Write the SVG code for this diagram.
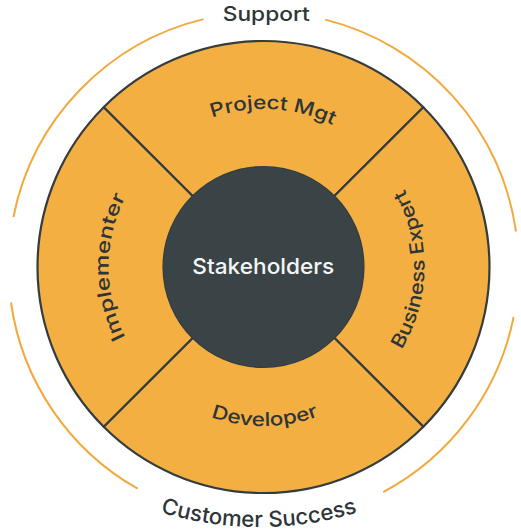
<svg xmlns="http://www.w3.org/2000/svg" xmlns:xlink="http://www.w3.org/1999/xlink" width="521" height="532" viewBox="0 0 521 532">
<style>
.seg{fill:#F4AF42;stroke:#343c3e;stroke-width:2.2;stroke-linejoin:round}
.ring{fill:none;stroke:#F2A93B;stroke-width:2}
.lbl{font-family:Inter,"Open Sans","Liberation Sans",sans-serif;font-weight:500;fill:#2e3537}
.in{font-size:19px}
.out{font-size:20px}
</style>
<defs>
<path id="pProject" d="M131.7,179.8 A158,158 0 0 1 404.9,196.5"/>
<path id="pDev" d="M126.5,347.7 A159,159 0 0 0 401.9,345.3"/>
<path id="pImpl" d="M186,401.2 A155,155 0 0 1 186,132.8"/>
<path id="pBiz" d="M341.6,407.8 A161,161 0 0 0 346.4,129.0"/>
<path id="pCust" d="M59,462 A340,340 0 0 0 459,462"/>
</defs>
<g id="connectors">
<path class="ring" d="M325.2,19.6 A255,255 0 0 1 516.0,231.5"/>
<path class="ring" d="M513.6,317.0 A255,255 0 0 1 383.2,492.1"/>
<path class="ring" d="M137.6,488.7 A255,255 0 0 1 11.0,302.5"/>
<path class="ring" d="M13.4,217.0 A255,255 0 0 1 203.5,19.1"/>
</g>
<g id="project-mgt">
<path class="seg" d="M103.7,107.2 A226,226 0 0 1 423.3,107.2 L334.2,196.3 A100,100 0 0 0 192.8,196.3 Z"/>
<text class="lbl in"><textPath href="#pProject" xlink:href="#pProject" startOffset="50%" text-anchor="middle" textLength="124" lengthAdjust="spacingAndGlyphs">Project Mgt</textPath></text>
</g>
<g id="business-expert">
<path class="seg" d="M423.3,107.2 A226,226 0 0 1 423.3,426.8 L334.2,337.7 A100,100 0 0 0 334.2,196.3 Z"/>
<text class="lbl in"><textPath href="#pBiz" xlink:href="#pBiz" startOffset="50%" text-anchor="middle" textLength="168" lengthAdjust="spacingAndGlyphs">Business Expert</textPath></text>
</g>
<g id="developer">
<path class="seg" d="M423.3,426.8 A226,226 0 0 1 103.7,426.8 L192.8,337.7 A100,100 0 0 0 334.2,337.7 Z"/>
<text class="lbl in"><textPath href="#pDev" xlink:href="#pDev" startOffset="50%" text-anchor="middle" textLength="110" lengthAdjust="spacingAndGlyphs">Developer</textPath></text>
</g>
<g id="implementer">
<path class="seg" d="M103.7,426.8 A226,226 0 0 1 103.7,107.2 L192.8,196.3 A100,100 0 0 0 192.8,337.7 Z"/>
<text class="lbl in"><textPath href="#pImpl" xlink:href="#pImpl" startOffset="50%" text-anchor="middle" textLength="146" lengthAdjust="spacingAndGlyphs">Implementer</textPath></text>
</g>
<g id="stakeholders">
<circle cx="263.5" cy="267" r="100" fill="#3a4446"/>
<text class="lbl" x="263.3" y="274.3" text-anchor="middle" font-size="22" style="fill:#f4f5f5" textLength="142" lengthAdjust="spacingAndGlyphs">Stakeholders</text>
</g>
<g id="support">
<text class="lbl out" x="266.3" y="20.7" text-anchor="middle" textLength="87" lengthAdjust="spacingAndGlyphs">Support</text>
</g>
<g id="customer-success">
<text class="lbl" font-size="22"><textPath href="#pCust" xlink:href="#pCust" startOffset="50%" text-anchor="middle" textLength="200" lengthAdjust="spacingAndGlyphs">Customer Success</textPath></text>
</g>
</svg>
